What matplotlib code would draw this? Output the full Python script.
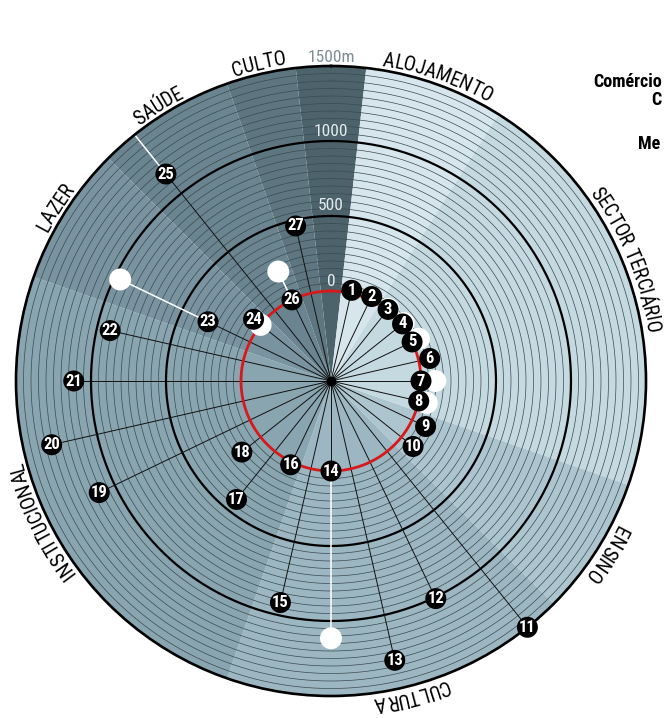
import numpy as np
import matplotlib
matplotlib.use("Agg")
import matplotlib.pyplot as plt
from matplotlib import font_manager as fm

# ---------------- data ----------------
point_ids = list(range(1, 28))
# walking distance (m) of each facility
dist = [20, 25, 10, 10, 0, 75, 0, 0, 100, 100, 1500, 1010, 1310, 0,
        915, 20, 410, 160, 1115, 1310, 1115, 910, 310, 60, 1165, 0, 460]
# alternative distance (m); None where there is none
alt_dist = [None, None, 15, 20, 50, None, 95, 55, None, None, None, None,
            None, 1115, None, None, None, None, None, None, None, None,
            960, 0, 1700, 210, None]

categories = ["ALOJAMENTO", "SECTOR TERCIÁRIO", "ENSINO", "CULTURA",
              "INSTITUCIONAL", "LAZER", "SAÚDE", "CULTO"]
cat_first = [1, 3, 9, 11, 16, 23, 25, 27]
cat_last = [2, 8, 10, 15, 22, 24, 26, 27]
cat_colors = ["#d6e6ec", "#c5d9e0", "#adc5ce", "#9cb7c1",
              "#88a5b0", "#7994a0", "#6a8590", "#5e7680"]
cat_label_shift = [0, -3, 0, -1.5, 0, 0, 0, 0]   # degrees

scale_ticks = [0, 500, 1000]
scale_top_label = "1500m"
legend_lines = ["Comércio", "C", "Me"]


# ---------------- fonts ----------------
def pick_condensed():
    names = {f.name for f in fm.fontManager.ttflist}
    for fam in ["Liberation Sans Narrow", "Roboto Condensed",
                "Open Sans Condensed", "Noto Sans Condensed",
                "DejaVu Sans Condensed", "Arial Narrow"]:
        if fam in names:
            return dict(family=fam), True
    for f in fm.fontManager.ttflist:
        st = str(f.stretch)
        if st in ("condensed", "semi-condensed", "extra-condensed") or st in ("75", "87", "62"):
            return dict(family=f.name, stretch=f.stretch), True
    return dict(family="Roboto"), False


NARROW, IS_CONDENSED = pick_condensed()
if IS_CONDENSED:
    FS_CAT, FS_NUM, FS_SCALE, FS_LEG = 14.5, 12, 12.5, 13
else:
    FS_CAT, FS_NUM, FS_SCALE, FS_LEG = 13, 10.5, 11.5, 11

# ---------------- geometry ----------------
N_SLOTS = 28
STEP = 2 * np.pi / N_SLOTS
R_IN = -600          # radial origin (centre of the dial)
R_MAX = 1500

W, H, DPI = 664, 718, 100
CX, CY, RPX = 331, 381, 315   # centre and outer radius in pixels

fig = plt.figure(figsize=(W / DPI, H / DPI), dpi=DPI)
ax = fig.add_axes([(CX - RPX) / W, (H - CY - RPX) / H, 2 * RPX / W, 2 * RPX / H],
                  projection="polar")
ax.set_theta_zero_location("N")
ax.set_theta_direction(-1)
ax.set_ylim(R_IN, R_MAX)
ax.set_xticks([])
ax.set_yticks([])
ax.grid(False)
ax.set_facecolor("none")
ax.spines["polar"].set_linewidth(1.9)
ax.spines["polar"].set_color("black")
ax.spines["polar"].set_zorder(6)

px_per_unit = RPX / (R_MAX - R_IN)


def theta_of(k):
    return k * STEP


# category sectors
ax.bar(0, R_MAX - R_IN, width=STEP, bottom=R_IN, color="#4d636c",
       edgecolor="none", zorder=0)
for name, a, b, col in zip(categories, cat_first, cat_last, cat_colors):
    ax.bar((a + b) / 2 * STEP, R_MAX - R_IN, width=(b - a + 1) * STEP,
           bottom=R_IN, color=col, edgecolor="none", zorder=0)

# rings
tt = np.linspace(0, 2 * np.pi, 721)
for v in range(50, R_MAX, 50):
    if v % 500 == 0:
        continue
    ax.plot(tt, np.full_like(tt, v), color="#3a4a51", lw=0.5, zorder=1)
for v in (500, 1000):
    ax.plot(tt, np.full_like(tt, v), color="black", lw=1.6, zorder=2)

# spokes
for k, d in zip(point_ids, dist):
    th = theta_of(k)
    ax.plot([th, th], [R_IN, d], color="#111111", lw=0.7, zorder=3)

ax.plot(tt, np.zeros_like(tt), color="#d7191c", lw=2.0, zorder=4)
ax.scatter([0], [R_IN], s=36, color="black", zorder=5)

# alternative distances
for k, d, a in zip(point_ids, dist, alt_dist):
    if a is None:
        continue
    th = theta_of(k)
    if a > d:
        ax.plot([th, th], [d, a], color="white", lw=1.1, zorder=5)
    ax.scatter([th], [a], s=250, color="white", edgecolor="none", zorder=6)

# facilities
for k, d in zip(point_ids, dist):
    th = theta_of(k)
    ax.scatter([th], [d], s=228, color="black", edgecolor="none", zorder=7,
               clip_on=False)
    ax.text(th, d, str(k), ha="center", va="center", color="white",
            fontsize=FS_NUM, fontweight="bold", zorder=8, clip_on=False,
            **NARROW)

# scale labels
for v in scale_ticks:
    ax.text(0, v + 10 / px_per_unit, str(v), ha="center", va="center",
            color="#e4ecef", fontsize=FS_SCALE, zorder=8, **NARROW)
ax.text(0, R_MAX + 9 / px_per_unit, scale_top_label, ha="center", va="center",
        color="#7d8d96", fontsize=FS_SCALE, zorder=8, clip_on=False, **NARROW)

# curved category labels, written clockwise with the letters facing outward
renderer = fig.canvas.get_renderer()
label_r_px = 325
label_r = label_r_px / px_per_unit + R_IN
cat_fp = fm.FontProperties(size=FS_CAT, **NARROW)


def text_w(s):
    if not s:
        return 0.0
    return renderer.get_text_width_height_descent(s, cat_fp, ismath=False)[0]


for name, a, b, shift in zip(categories, cat_first, cat_last, cat_label_shift):
    centre = np.deg2rad((a + b) / 2 * 360 / N_SLOTS + shift)
    # advance of each glyph taken from growing prefixes of the word
    edges = [text_w(name[:i]) for i in range(len(name) + 1)]
    total = edges[-1]
    start = centre - total / 2 / label_r_px
    for i, ch in enumerate(name):
        mid = (edges[i] + edges[i + 1]) / 2
        phi = start + mid / label_r_px
        ax.text(phi, label_r, ch, ha="center", va="center",
                rotation=-np.rad2deg(phi), rotation_mode="anchor",
                fontproperties=cat_fp, color="black", clip_on=False, zorder=8)

# legend heading fragments at the right edge
legend_pos = [(662, 82, "right"), (651, 100, "left"), (638, 144, "left")]
for txt, (x, y, ha) in zip(legend_lines, legend_pos):
    fig.text(x / W, 1 - y / H, txt, ha=ha, va="center", fontsize=FS_LEG,
             fontweight="bold", color="black", **NARROW)

fig.savefig("out.png", dpi=DPI, facecolor="white")
